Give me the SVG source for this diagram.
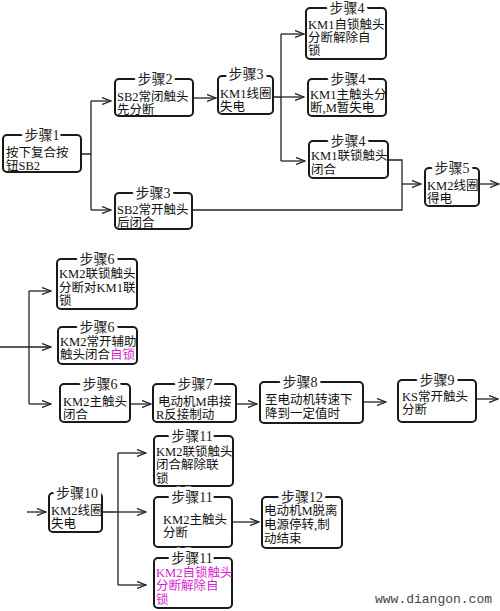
<svg xmlns="http://www.w3.org/2000/svg" width="500" height="611" viewBox="0 0 500 611">
<defs>
<marker id="ar" markerWidth="10" markerHeight="8" refX="9" refY="4" orient="auto" markerUnits="userSpaceOnUse">
<path d="M0,0.5 L9,4 L0,7.5" fill="none" stroke="#222" stroke-width="1.3"/>
</marker>
</defs>
<style>
.box{fill:#fff;stroke:#1a1a1a;stroke-width:2}
.t{font-family:"Liberation Serif","Noto Sans CJK SC",serif;font-size:14px;fill:#222;text-anchor:middle;stroke:#fff;stroke-width:7;paint-order:stroke;stroke-linejoin:round}
.b{font-family:"Liberation Serif","Noto Sans CJK SC",serif;font-size:12.5px;fill:#111}
.m{fill:#d81fd0}
.c{fill:none;stroke:#222;stroke-width:1.3}
.a{marker-end:url(#ar)}
</style>
<rect width="500" height="611" fill="#fff"/>
<g id="connectors">
<path class="c" d="M81,154 H91 M91,101 V210"/>
<path class="c a" d="M91,101 H111"/>
<path class="c a" d="M91,210 H111"/>
<path class="c a" d="M193,98 H216"/>
<path class="c" d="M192,210 H402 V160 H388"/>
<path class="c a" d="M402,184 H421"/>
<path class="c" d="M273,97 H281 M281,34 V161"/>
<path class="c a" d="M281,34 H304"/>
<path class="c a" d="M281,97 H304"/>
<path class="c a" d="M281,161 H305"/>
<path class="c a" d="M479,184 H499"/>
<path class="c a" d="M0,347 H51"/>
<path class="c" d="M29,291 V404"/>
<path class="c a" d="M29,291 H51"/>
<path class="c a" d="M29,404 H51"/>
<path class="c a" d="M130,404 H151"/>
<path class="c a" d="M236,404 H257"/>
<path class="c a" d="M363,402 H386"/>
<path class="c a" d="M476,399 H498"/>
<path class="c a" d="M27,512 H46"/>
<path class="c" d="M102,512 H118 M118,453 V585"/>
<path class="c a" d="M118,453 H146"/>
<path class="c a" d="M118,512 H146"/>
<path class="c a" d="M118,585 H146"/>
<path class="c a" d="M232,522 H259"/>
</g>
<g id="n1"><rect class="box" x="3" y="135" width="78" height="37" rx="4"/><text class="t" x="42" y="140">步骤1</text><text class="b" x="6" y="157">按下复合按</text><text class="b" x="6" y="170">钮SB2</text></g>
<g id="n2"><rect class="box" x="115" y="79" width="78" height="37" rx="4"/><text class="t" x="155" y="84">步骤2</text><text class="b" x="117" y="101">SB2常闭触头</text><text class="b" x="117" y="114">先分断</text></g>
<g id="n3"><rect class="box" x="115" y="193" width="77" height="36" rx="4"/><text class="t" x="153" y="198">步骤3</text><text class="b" x="117" y="214">SB2常开触头</text><text class="b" x="117" y="227">后闭合</text></g>
<g id="n3b"><rect class="box" x="218" y="76" width="55" height="38" rx="4"/><text class="t" x="246" y="79">步骤3</text><text class="b" x="220" y="98">KM1线圈</text><text class="b" x="220" y="111">失电</text></g>
<g id="n4a"><rect class="box" x="306" y="8" width="80" height="51" rx="4"/><text class="t" x="347" y="13">步骤4</text><text class="b" x="308" y="29">KM1自锁触头</text><text class="b" x="308" y="42">分断解除自</text><text class="b" x="308" y="55">锁</text></g>
<g id="n4b"><rect class="box" x="308" y="79" width="78" height="37" rx="4"/><text class="t" x="348" y="84">步骤4</text><text class="b" x="310" y="99">KM1主触头分</text><text class="b" x="310" y="112">断,M暂失电</text></g>
<g id="n4c"><rect class="box" x="309" y="141" width="79" height="37" rx="4"/><text class="t" x="348" y="146">步骤4</text><text class="b" x="311" y="160">KM1联锁触头</text><text class="b" x="311" y="174">闭合</text></g>
<g id="n5"><rect class="box" x="425" y="168" width="54" height="38" rx="4"/><text class="t" x="452" y="173">步骤5</text><text class="b" x="427" y="190">KM2线圈</text><text class="b" x="427" y="203">得电</text></g>
<g id="n6a"><rect class="box" x="57" y="259" width="80" height="50" rx="4"/><text class="t" x="97" y="264">步骤6</text><text class="b" x="59" y="278">KM2联锁触头</text><text class="b" x="59" y="292">分断对KM1联</text><text class="b" x="59" y="305">锁</text></g>
<g id="n6b"><rect class="box" x="58" y="327" width="79" height="37" rx="4"/><text class="t" x="97" y="332">步骤6</text><text class="b" x="60" y="346">KM2常开辅助</text><text class="b" x="60" y="359">触头闭合<tspan class="m">自锁</tspan></text></g>
<g id="n6c"><rect class="box" x="60" y="384" width="70" height="38" rx="4"/><text class="t" x="100" y="389">步骤6</text><text class="b" x="63" y="406">KM2主触头</text><text class="b" x="63" y="419">闭合</text></g>
<g id="n7"><rect class="box" x="153" y="384" width="83" height="38" rx="4"/><text class="t" x="195" y="389">步骤7</text><text class="b" x="158" y="406">电动机M串接</text><text class="b" x="156" y="419">R反接制动</text></g>
<g id="n8"><rect class="box" x="260" y="382" width="103" height="41" rx="4"/><text class="t" x="300" y="387">步骤8</text><text class="b" x="265" y="404">至电动机转速下</text><text class="b" x="265" y="418">降到一定值时</text></g>
<g id="n9"><rect class="box" x="398" y="380" width="78" height="42" rx="4"/><text class="t" x="437" y="385">步骤9</text><text class="b" x="402" y="401">KS常开触头</text><text class="b" x="402" y="414">分断</text></g>
<g id="n10"><rect class="box" x="49" y="493" width="53" height="39" rx="4"/><text class="t" x="77" y="498">步骤10</text><text class="b" x="51" y="515">KM2线圈</text><text class="b" x="51" y="528">失电</text></g>
<g id="n11a"><rect class="box" x="154" y="436" width="79" height="50" rx="4"/><text class="t" x="192" y="441">步骤11</text><text class="b" x="156" y="456">KM2联锁触头</text><text class="b" x="156" y="469">闭合解除联</text><text class="b" x="156" y="483">锁</text></g>
<g id="n11b"><rect class="box" x="154" y="497" width="78" height="50" rx="4"/><text class="t" x="192" y="502">步骤11</text><text class="b" x="163" y="524">KM2主触头</text><text class="b" x="163" y="537">分断</text></g>
<g id="n11c"><rect class="box" x="154" y="558" width="78" height="50" rx="4"/><text class="t" x="192" y="563">步骤11</text><text class="b m" x="156" y="577">KM2自锁触头</text><text class="b m" x="156" y="590">分断解除自</text><text class="b m" x="156" y="604">锁</text></g>
<g id="n12"><rect class="box" x="262" y="497" width="80" height="51" rx="4"/><text class="t" x="302" y="502">步骤12</text><text class="b" x="264" y="515">电动机M脱离</text><text class="b" x="264" y="529">电源停转,制</text><text class="b" x="264" y="543">动结束</text></g>
<text x="375" y="603" font-family="Liberation Mono, monospace" font-size="13" fill="#444">www.diangon.com</text>
</svg>
